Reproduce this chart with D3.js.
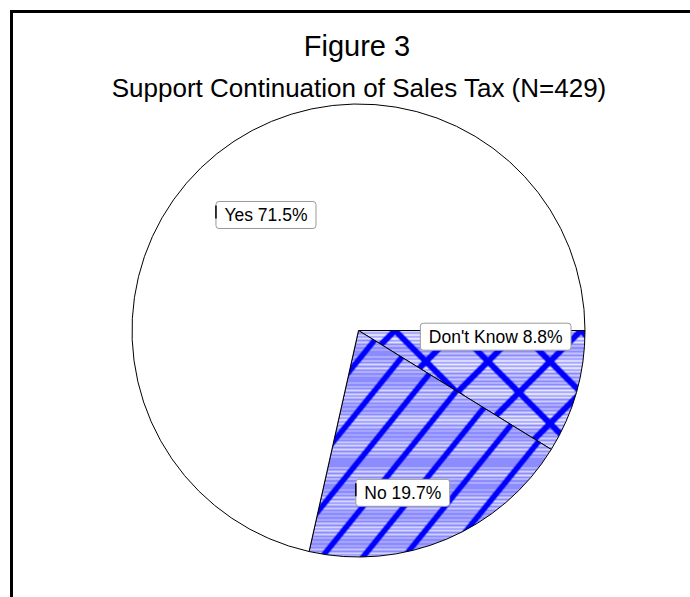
<!DOCTYPE html>
<html>
<head>
<meta charset="utf-8">
<script src="https://cdn.jsdelivr.net/npm/d3@7"></script>
<style>
  html, body { margin: 0; padding: 0; background: #fff; }
  svg { display: block; }
  text { font-family: "Liberation Sans", Arial, sans-serif; }
</style>
</head>
<body>
<script>
// ---- data ----
const categories = ["Don't Know", "No", "Yes"];
const values = [8.8, 19.7, 71.5];
const labels = ["Don't Know 8.8%", "No 19.7%", "Yes 71.5%"];
const title = "Figure 3";
const subtitle = "Support Continuation of Sales Tax (N=429)";

// ---- layout ----
const W = 690, H = 597;
const cx = 358.5, cy = 330.5, R = 226.5;
const fills = ["url(#cross)", "url(#diag)", "#ffffff"];
const labelRadius = [140, 168, 148];
const labelNudge = [[2.5, -32], [-21, 7.5], [0, 0]];

const svg = d3.select("body").append("svg").attr("width", W).attr("height", H);
const defs = svg.append("defs");

// striped light-blue base (deterministic streak texture)
function base(p, w, h, light) {
  p.append("rect").attr("width", w).attr("height", h).attr("fill", "#8c8cff");
  for (let r = 0; r < h; r++) {
    const v = Math.sin(r * 1.7) + 0.6 * Math.sin(r * 0.23) + light;
    if (v > 0.35) {
      p.append("rect").attr("x", 0).attr("y", r).attr("width", w).attr("height", 1)
        .attr("fill", "#ffffff").attr("opacity", Math.min(0.85, 0.3 + v * 0.3));
    }
  }
}
const PW = 700, PH = 600;

// diagonal pattern (/)
const angD = 51 * Math.PI / 180, spD = 41;
const diag = defs.append("pattern").attr("id", "diag").attr("patternUnits", "userSpaceOnUse")
  .attr("x", -PW / 2).attr("y", -PH / 2).attr("width", PW).attr("height", PH);
base(diag, PW, PH, 0);
const dg = diag.append("g");
for (let k = -30; k < 30; k++) {
  const x0 = k * spD + 8;
  dg.append("line").attr("x1", x0).attr("y1", PH).attr("x2", x0 + PH / Math.tan(angD)).attr("y2", 0)
    .attr("stroke", "#0000ff").attr("stroke-width", 5.5);
}

// cross pattern
const angC = 45 * Math.PI / 180, spC = 62;
const cross = defs.append("pattern").attr("id", "cross").attr("patternUnits", "userSpaceOnUse")
  .attr("x", -PW / 2).attr("y", -PH / 2).attr("width", PW).attr("height", PH);
base(cross, PW, PH, 0.5);
const cg = cross.append("g");
for (let k = -30; k < 30; k++) {
  const x0 = k * spC + 24.5;
  cg.append("line").attr("x1", x0).attr("y1", PH).attr("x2", x0 + PH / Math.tan(angC)).attr("y2", 0)
    .attr("stroke", "#0000ff").attr("stroke-width", 6);
  cg.append("line").attr("x1", x0).attr("y1", 0).attr("x2", x0 + PH / Math.tan(angC)).attr("y2", PH)
    .attr("stroke", "#0000ff").attr("stroke-width", 6);
}

// border
svg.append("line").attr("x1", 10).attr("y1", 11.5).attr("x2", W).attr("y2", 11.5)
  .attr("stroke", "#000").attr("stroke-width", 3);
svg.append("line").attr("x1", 11.5).attr("y1", 10).attr("x2", 11.5).attr("y2", H)
  .attr("stroke", "#000").attr("stroke-width", 3);

// titles
svg.append("text").attr("x", 357).attr("y", 56).attr("text-anchor", "middle")
  .attr("font-size", 29).text(title);
svg.append("text").attr("x", 359).attr("y", 97).attr("text-anchor", "middle")
  .attr("font-size", 26).text(subtitle);

// pie
const pie = d3.pie().sort(null).startAngle(Math.PI / 2).endAngle(Math.PI / 2 + 2 * Math.PI);
const arcs = pie(values);
const arc = d3.arc().innerRadius(0).outerRadius(R);
const g = svg.append("g").attr("transform", `translate(${cx},${cy})`);
g.selectAll("path.slice").data(arcs).join("path").attr("class", "slice")
  .attr("d", arc).attr("fill", (d, i) => fills[i])
  .attr("stroke", "#000").attr("stroke-width", 1);

// labels
arcs.forEach((d, i) => {
  const a = (d.startAngle + d.endAngle) / 2;
  const x = Math.sin(a) * labelRadius[i] + labelNudge[i][0];
  const y = -Math.cos(a) * labelRadius[i] + labelNudge[i][1];
  const lg = g.append("g").attr("transform", `translate(${x},${y})`);
  const t = lg.append("text").attr("text-anchor", "middle").attr("dy", "0.35em")
    .attr("font-size", 17.5).text(labels[i]);
  const bb = t.node().getBBox();
  const bw = bb.width + 17, bh = 27;
  lg.insert("rect", "text").attr("x", -bw / 2).attr("y", -bh / 2).attr("width", bw).attr("height", bh)
    .attr("rx", 3).attr("fill", "#fff").attr("stroke", "#999").attr("stroke-width", 1);
  if (i !== 0) {
    lg.append("line").attr("x1", -bw / 2).attr("y1", -bh / 2 + 4).attr("x2", -bw / 2).attr("y2", -bh / 2 + 17)
      .attr("stroke", "#000").attr("stroke-width", 1.5);
  }
});
</script>
</body>
</html>
